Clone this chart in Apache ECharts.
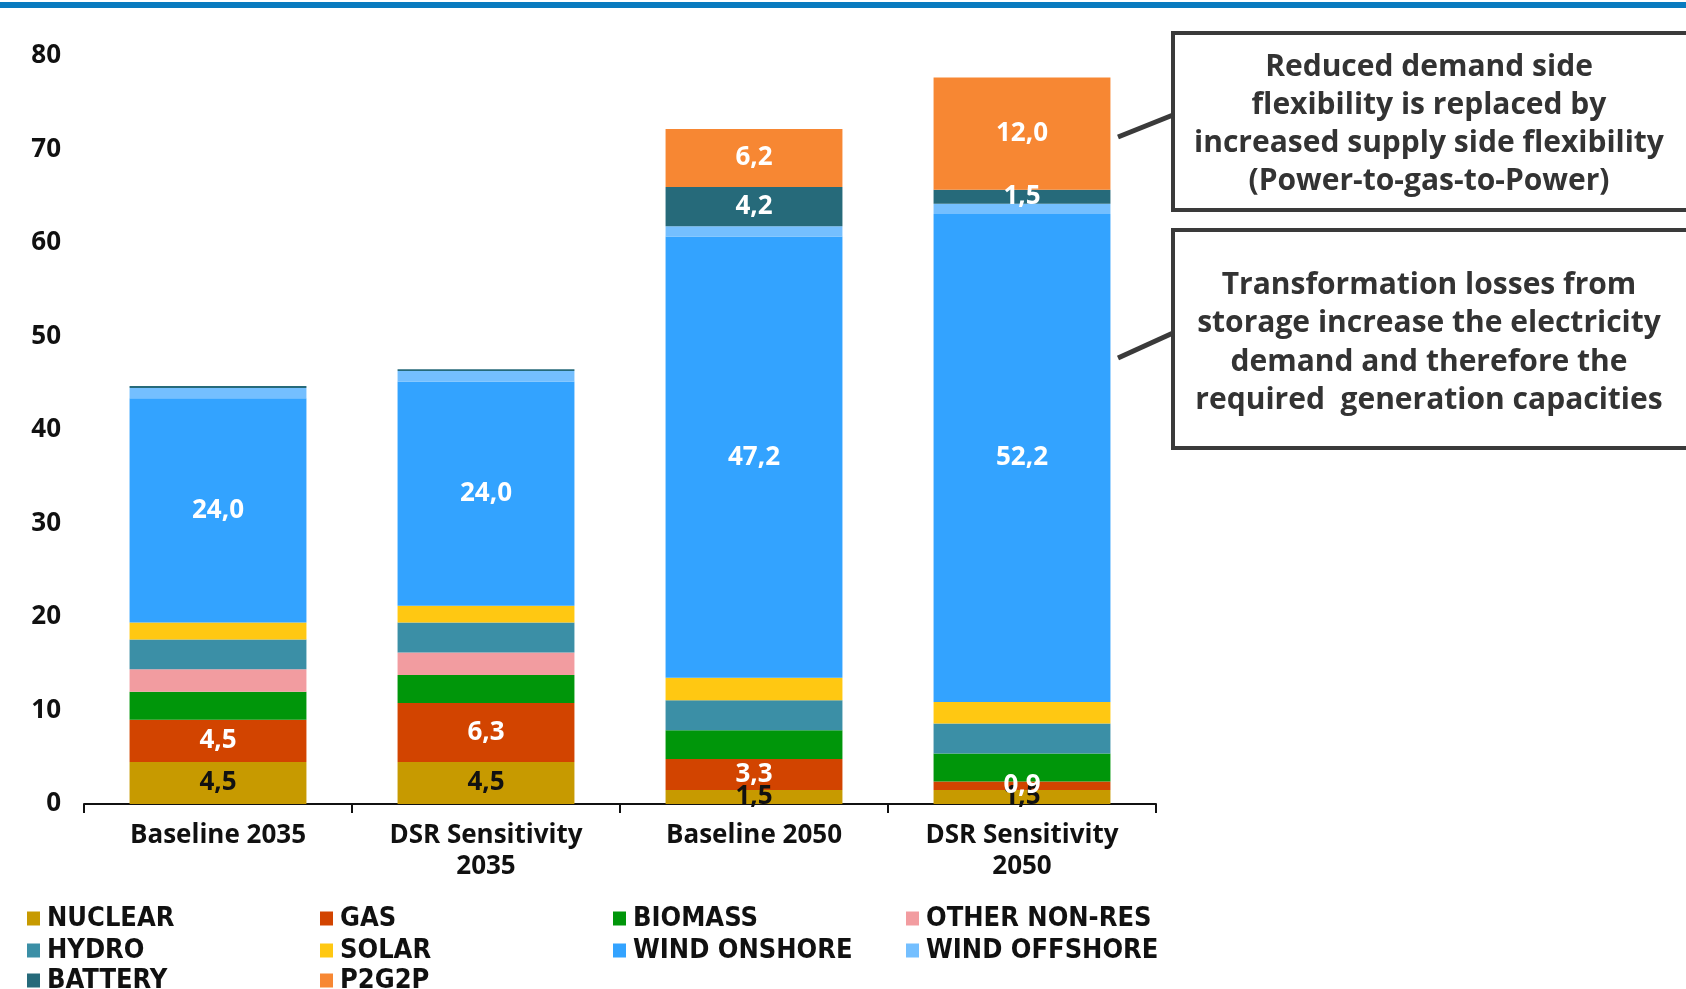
<!DOCTYPE html>
<html>
<head>
<meta charset="utf-8">
<script src="https://cdn.jsdelivr.net/npm/echarts@6/dist/echarts.min.js"></script>
<style>
  html, body { margin: 0; padding: 0; background: #fff; }
  #chart { width: 1686px; height: 989px; }
</style>
</head>
<body>
<div id="chart"></div>
<script>
var categories = ['Baseline 2035', 'DSR Sensitivity\n2035', 'Baseline 2050', 'DSR Sensitivity\n2050']
var yTicks = [0, 10, 20, 30, 40, 50, 60, 70, 80]

var nuclear = [4.5, 4.5, 1.5, 1.5]
var gas = [4.5, 6.3, 3.3, 0.9]
var biomass = [3.0, 3.0, 3.1, 3.0]
var otherNonRes = [2.4, 2.4, 0, 0]
var hydro = [3.2, 3.2, 3.2, 3.2]
var solar = [1.8, 1.8, 2.4, 2.3]
var windOnshore = [24.0, 24.0, 47.2, 52.2]
var windOffshore = [1.1, 1.1, 1.1, 1.1]
var battery = [0.2, 0.2, 4.2, 1.5]
var p2g2p = [0, 0, 6.2, 12.0]

var font = '"Open Sans", Lato, sans-serif'

// name, data, colour, label colour (null = no label), min value to label
var seriesDefs = [
    ['NUCLEAR', nuclear, '#c79a00', '#111111', 1],
    ['GAS', gas, '#d24400', '#ffffff', 0.5],
    ['BIOMASS', biomass, '#00960a', null, 0],
    ['OTHER NON-RES', otherNonRes, '#f29ca0', null, 0],
    ['HYDRO', hydro, '#3b8fa6', null, 0],
    ['SOLAR', solar, '#ffc812', null, 0],
    ['WIND ONSHORE', windOnshore, '#33a3ff', '#ffffff', 1],
    ['WIND OFFSHORE', windOffshore, '#74bfff', null, 0],
    ['BATTERY', battery, '#266a7a', '#ffffff', 1],
    ['P2G2P', p2g2p, '#f78733', '#ffffff', 1]
]

function fmt(v) {
    return v.toFixed(1).replace('.', ',')
}

var series = seriesDefs.map(function (d) {
    var minVal = d[4]
    return {
        name: d[0],
        type: 'bar',
        stack: 'total',
        barWidth: '66%',
        data: d[1],
        itemStyle: { color: d[2] },
        label: {
            show: d[3] !== null,
            position: 'inside',
            color: d[3] || '#fff',
            fontFamily: font,
            fontWeight: 'bold',
            fontSize: 26,
            formatter: function (p) {
                return p.value >= minVal ? fmt(p.value) : ''
            }
        }
    }
})

// one legend per row, fixed text width so the items line up in columns
function legendRow(top, names) {
    return {
        orient: 'horizontal',
        left: 27,
        top: top,
        padding: 0,
        itemWidth: 13,
        itemHeight: 14,
        itemGap: 0,
        icon: 'rect',
        selectedMode: false,
        data: names,
        textStyle: {
            fontFamily: '"Liberation Sans Narrow", "DejaVu Sans Condensed", sans-serif',
            fontWeight: 'bold',
            fontSize: 27,
            lineHeight: 27,
            color: '#111',
            padding: [0, 0, 0, 2],
            width: 273,
            overflow: 'truncate'
        }
    }
}

var boxText1 = 'Reduced demand side\nflexibility is replaced by\nincreased supply side flexibility\n(Power-to-gas-to-Power)'
var boxText2 = 'Transformation losses from\nstorage increase the electricity\ndemand and therefore the\nrequired  generation capacities'

var chart = echarts.init(document.getElementById('chart'))
var option = {
    backgroundColor: '#ffffff',
    animation: false,
    grid: { left: 84, right: 530, top: 56, bottom: 185 },
    legend: [
        legendRow(905, ['NUCLEAR', 'GAS', 'BIOMASS', 'OTHER NON-RES']),
        legendRow(937, ['HYDRO', 'SOLAR', 'WIND ONSHORE', 'WIND OFFSHORE']),
        legendRow(967, ['BATTERY', 'P2G2P'])
    ],
    xAxis: {
        type: 'category',
        data: categories,
        axisLine: { lineStyle: { color: '#111', width: 2 } },
        axisTick: { show: true, length: 9, lineStyle: { color: '#111', width: 2 } },
        axisLabel: {
            color: '#111',
            fontFamily: font,
            fontWeight: 'bold',
            fontSize: 26,
            lineHeight: 31,
            margin: 16
        }
    },
    yAxis: {
        type: 'value',
        min: yTicks[0],
        max: yTicks[yTicks.length - 1],
        interval: 10,
        axisLine: { show: false },
        axisTick: { show: false },
        splitLine: { show: false },
        axisLabel: {
            color: '#111',
            fontFamily: font,
            fontWeight: 'bold',
            fontSize: 26,
            margin: 23
        }
    },
    graphic: [
        {
            type: 'rect',
            shape: { x: 0, y: 2, width: 1686, height: 6 },
            style: { fill: '#0a7bbf' }
        },
        {
            type: 'rect',
            shape: { x: 1173, y: 33, width: 520, height: 177 },
            style: { fill: 'none', stroke: '#3a3a3a', lineWidth: 4 }
        },
        {
            type: 'rect',
            shape: { x: 1173, y: 230, width: 520, height: 218 },
            style: { fill: 'none', stroke: '#3a3a3a', lineWidth: 4 }
        },
        {
            type: 'line',
            shape: { x1: 1118, y1: 137, x2: 1173, y2: 115 },
            style: { stroke: '#3a3a3a', lineWidth: 5 }
        },
        {
            type: 'line',
            shape: { x1: 1118, y1: 358, x2: 1173, y2: 333 },
            style: { stroke: '#3a3a3a', lineWidth: 5 }
        },
        {
            type: 'text',
            x: 1429, y: 124,
            style: {
                text: boxText1,
                fill: '#333',
                font: 'bold 30px ' + font,
                lineHeight: 38,
                align: 'center',
                verticalAlign: 'middle'
            }
        },
        {
            type: 'text',
            x: 1429, y: 343,
            style: {
                text: boxText2,
                fill: '#333',
                font: 'bold 30px ' + font,
                lineHeight: 38.5,
                align: 'center',
                verticalAlign: 'middle'
            }
        }
    ],
    series: series
}
chart.setOption(option)
</script>
</body>
</html>
